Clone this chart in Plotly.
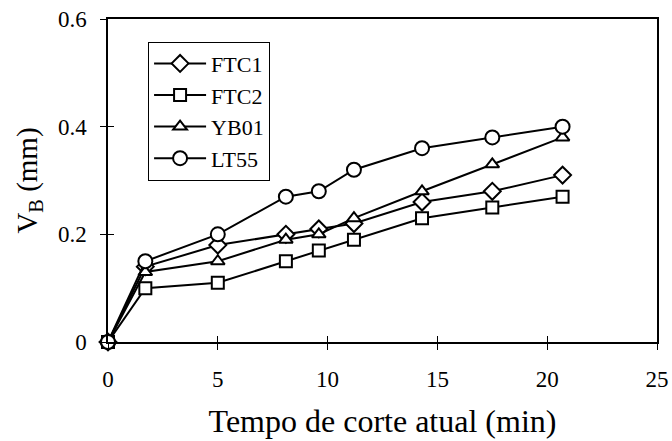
import plotly.graph_objects as go

tempo = [0, 1.7, 5.0, 8.1, 9.6, 11.2, 14.3, 17.5, 20.7]
ftc1 = [0, 0.14, 0.18, 0.20, 0.21, 0.22, 0.26, 0.28, 0.31]
ftc2 = [0, 0.10, 0.11, 0.15, 0.17, 0.19, 0.23, 0.25, 0.27]
yb01 = [0, 0.13, 0.15, 0.19, 0.20, 0.23, 0.28, 0.33, 0.38]
lt55 = [0, 0.15, 0.20, 0.27, 0.28, 0.32, 0.36, 0.38, 0.40]

series = [
    ("FTC1", ftc1, "diamond", 13),
    ("FTC2", ftc2, "square", 12),
    ("YB01", yb01, "triangle-up", 12),
    ("LT55", lt55, "circle", 14),
]

FONT = "Liberation Serif"

fig = go.Figure()
for name, vals, sym, sz in series:
    fig.add_trace(go.Scatter(
        x=tempo, y=vals, name=name, mode="lines+markers",
        line=dict(color="black", width=2),
        marker=dict(symbol=sym, size=sz, color="white",
                    line=dict(color="black", width=2)),
        cliponaxis=False,
    ))

# invisible trace to carry the inside ticks on overlay axes
fig.add_trace(go.Scatter(x=[0], y=[0], xaxis="x2", yaxis="y2",
                         mode="markers", marker=dict(opacity=0),
                         showlegend=False, hoverinfo="skip"))

fig.update_layout(
    width=672, height=441,
    margin=dict(l=108, r=15, t=19, b=99, autoexpand=False),
    paper_bgcolor="white", plot_bgcolor="white",
    font=dict(family=FONT, color="black", size=22),
    showlegend=True,
    legend=dict(x=0.073, y=0.93, xanchor="left", yanchor="top",
                bordercolor="black", borderwidth=1, bgcolor="white",
                font=dict(size=22, family=FONT), tracegroupgap=0,
                itemwidth=52),
    xaxis=dict(range=[0, 25], dtick=5, tick0=0, showgrid=False, zeroline=False,
               showline=True, linecolor="black", linewidth=1.5, mirror=True,
               ticks="outside", ticklen=6, tickcolor="black", tickwidth=1,
               ticklabelstandoff=10, automargin=False,
               tickfont=dict(size=23, family=FONT),
               title=dict(text="Tempo de corte atual (min)",
                          font=dict(size=32, family=FONT), standoff=18)),
    yaxis=dict(range=[0, 0.6], dtick=0.2, tick0=0, showgrid=False, zeroline=False,
               showline=True, linecolor="black", linewidth=1.5, mirror=True,
               ticks="outside", ticklen=6, tickcolor="black", tickwidth=1,
               ticklabelstandoff=9, automargin=False,
               tickfont=dict(size=23, family=FONT),
               title=dict(text="V<sub>B</sub> (mm)",
                          font=dict(size=29, family=FONT), standoff=12)),
    xaxis2=dict(range=[0, 25], dtick=5, tick0=0, overlaying="x", showgrid=False,
                zeroline=False, showticklabels=False, ticks="inside", ticklen=6,
                tickcolor="black", tickwidth=1, anchor="y2", automargin=False),
    yaxis2=dict(range=[0, 0.6], dtick=0.2, tick0=0, overlaying="y", showgrid=False,
                zeroline=False, showticklabels=False, ticks="inside", ticklen=6,
                tickcolor="black", tickwidth=1, anchor="x2", automargin=False),
)

fig.write_html("out.html")
